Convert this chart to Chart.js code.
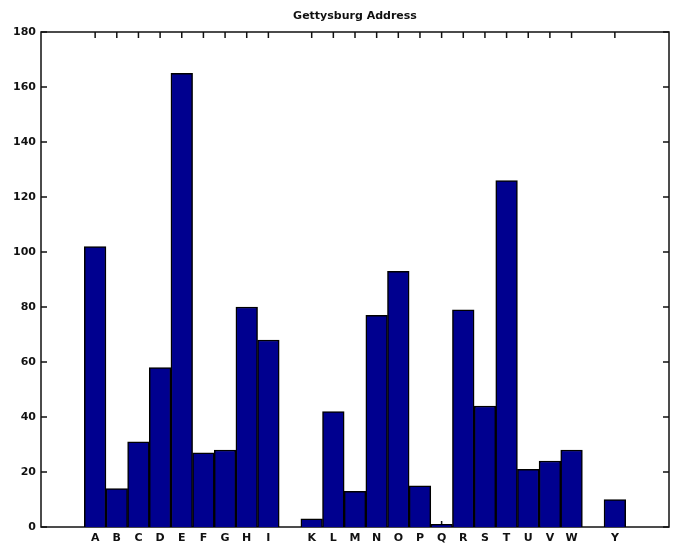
<!DOCTYPE html>
<html>
<head>
<meta charset="utf-8">
<script src="https://cdn.jsdelivr.net/npm/chart.js@4"></script>
<style>
  html, body { margin: 0; padding: 0; background: #fff; }
  .chart-wrap { width: 676px; height: 546px; }
</style>
</head>
<body>
<div class="chart-wrap"><canvas id="chart"></canvas></div>
<script>
// letter counts, one slot per position (-1 .. 27) like the matlab axis
const letters = ["", "", "A", "B", "C", "D", "E", "F", "G", "H", "I", "J", "K", "L", "M",
  "N", "O", "P", "Q", "R", "S", "T", "U", "V", "W", "X", "Y", "Z", ""];
const tickLabels = ["", "", "A", "B", "C", "D", "E", "F", "G", "H", "I", "", "K", "L", "M",
  "N", "O", "P", "Q", "R", "S", "T", "U", "V", "W", "", "Y", "", ""];
const counts = [null, null, 102, 14, 31, 58, 165, 27, 28, 80, 68, 0, 3, 42, 13,
  77, 93, 15, 1, 79, 44, 126, 21, 24, 28, 0, 10, 0, null];
const yTicks = [0, 20, 40, 60, 80, 100, 120, 140, 160, 180];
const titleText = "Gettysburg Address";

const fontFamily = "'DejaVu Sans', Verdana, sans-serif";

// box + inward ticks, drawn under the bars; title centred over the axes
const axesBox = {
  id: "axesBox",
  beforeDatasetsDraw(chart) {
    const { ctx, chartArea: a, scales } = chart;
    const len = 6;
    ctx.save();
    ctx.strokeStyle = "#111";
    ctx.lineWidth = 1.5;
    ctx.beginPath();
    tickLabels.forEach((lab, i) => {
      if (!lab) return;
      const x = scales.x.getPixelForValue(i);
      ctx.moveTo(x, a.top);
      ctx.lineTo(x, a.top + len);
      ctx.moveTo(x, a.bottom);
      ctx.lineTo(x, a.bottom - len);
    });
    yTicks.forEach((v) => {
      const y = scales.y.getPixelForValue(v);
      ctx.moveTo(a.left, y);
      ctx.lineTo(a.left + len, y);
      ctx.moveTo(a.right, y);
      ctx.lineTo(a.right - len, y);
    });
    ctx.stroke();
    ctx.strokeRect(a.left, a.top, a.right - a.left, a.bottom - a.top);

    ctx.fillStyle = "#111";
    ctx.font = "bold 11px " + fontFamily;
    ctx.textAlign = "center";
    ctx.textBaseline = "middle";
    ctx.fillText(titleText, (a.left + a.right) / 2, 16);
    ctx.restore();
  },
};

new Chart(document.getElementById("chart"), {
  type: "bar",
  data: {
    labels: letters,
    datasets: [
      {
        data: counts,
        backgroundColor: "#00008f",
        borderColor: "#000",
        borderWidth: 1.5,
        barPercentage: 1,
        categoryPercentage: 1,
      },
    ],
  },
  options: {
    responsive: true,
    maintainAspectRatio: false,
    animation: false,
    layout: { padding: { left: 0, right: 7, top: 32, bottom: 0 } },
    plugins: {
      legend: { display: false },
      tooltip: { enabled: false },
      title: { display: false },
    },
    scales: {
      x: {
        type: "category",
        offset: true,
        grid: { display: false, drawTicks: false },
        border: { display: false },
        ticks: {
          autoSkip: false,
          maxRotation: 0,
          padding: 5,
          color: "#111",
          font: { family: fontFamily, size: 11, weight: "bold" },
          callback: (val, i) => tickLabels[i],
        },
        afterFit: (scale) => { scale.height = 19; },
      },
      y: {
        min: 0,
        max: 180,
        grid: { display: false, drawTicks: false },
        border: { display: false },
        ticks: {
          stepSize: 20,
          padding: 5,
          color: "#111",
          font: { family: fontFamily, size: 11, weight: "bold" },
        },
        afterFit: (scale) => { scale.width = 41; },
      },
    },
  },
  plugins: [axesBox],
});
</script>
</body>
</html>
